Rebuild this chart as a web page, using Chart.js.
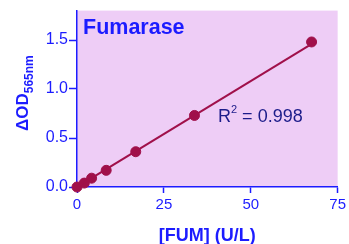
<!DOCTYPE html>
<html>
<head>
<meta charset="utf-8">
<script src="https://cdn.jsdelivr.net/npm/chart.js@4.4.0/dist/chart.umd.min.js"></script>
<style>
  html, body { margin: 0; padding: 0; background: #fff; }
  #wrap { width: 349px; height: 244px; position: relative; }
</style>
</head>
<body>
<div id="wrap"><canvas id="chart"></canvas></div>
<script>
const fum = [0, 2.1, 4.2, 8.4, 16.9, 33.8, 67.5];
const od = [0, 0.04, 0.09, 0.17, 0.36, 0.73, 1.48];
const fitX = [0, 68.5];
const fitY = [0, 1.48];
const xTicks = [0, 25, 50, 75];
const yTicks = [0, 0.5, 1.0, 1.5];

const blue = "#1c1cff";
const dark = "#a0104a";
const font = "'Liberation Sans', Arial, sans-serif";

const decor = {
  id: "decor",
  beforeDraw(chart) {
    const { ctx, chartArea: a } = chart;
    ctx.save();
    ctx.fillStyle = "#eecdf6";
    ctx.fillRect(a.left, a.top, a.right - a.left, a.bottom - a.top);
    ctx.restore();
  },
  afterDraw(chart) {
    const { ctx } = chart;
    ctx.save();
    ctx.fillStyle = blue;
    ctx.font = "bold 21.5px " + font;
    ctx.textBaseline = "alphabetic";
    ctx.fillText("Fumarase", 83, 34);

    ctx.fillStyle = "#1c1c8a";
    ctx.font = "18px " + font;
    ctx.fillText("R", 218, 122);
    const rw = ctx.measureText("R").width;
    ctx.font = "11px " + font;
    ctx.fillText("2", 218 + rw, 113);
    const sw = ctx.measureText("2").width;
    ctx.font = "18px " + font;
    ctx.fillText(" = 0.998", 218 + rw + sw, 122);

    // y axis title with subscript
    ctx.translate(28, 131);
    ctx.rotate(-Math.PI / 2);
    ctx.fillStyle = blue;
    ctx.font = "bold 17px " + font;
    ctx.fillText("ΔOD", 0, 0);
    const w = ctx.measureText("ΔOD").width;
    ctx.font = "bold 12px " + font;
    ctx.fillText("565nm", w, 5);
    ctx.restore();
  }
};

new Chart(document.getElementById("chart"), {
  type: "scatter",
  data: {
    datasets: [
      {
        data: fitX.map((x, i) => ({ x: x, y: fitY[i] })),
        showLine: true,
        borderColor: dark,
        borderWidth: 2,
        pointRadius: 0
      },
      {
        data: fum.map((x, i) => ({ x: x, y: od[i] })),
        backgroundColor: dark,
        borderColor: dark,
        pointRadius: 5,
        pointHoverRadius: 5,
        clip: false
      }
    ]
  },
  options: {
    responsive: true,
    maintainAspectRatio: false,
    animation: false,
    layout: { padding: { top: 10, right: 8, left: 0, bottom: 0 } },
    plugins: { legend: { display: false }, tooltip: { enabled: false } },
    scales: {
      x: {
        type: "linear",
        min: 0,
        max: 75,
        afterBuildTicks(s) { s.ticks = xTicks.map(v => ({ value: v })); },
        afterFit(s) { s.height = 57; },
        grid: { drawOnChartArea: false, color: blue, tickLength: 6, tickWidth: 1.5 },
        border: { color: blue, width: 1.5 },
        ticks: { color: blue, padding: 3, font: { size: 15, family: font } },
        title: {
          display: true,
          text: "[FUM] (U/L)",
          color: blue,
          padding: { top: 8, bottom: -3 },
          font: { size: 18, weight: "bold", family: font }
        }
      },
      y: {
        type: "linear",
        min: 0,
        max: 1.8,
        afterBuildTicks(s) { s.ticks = yTicks.map(v => ({ value: v })); },
        afterFit(s) { s.width = 77; },
        grid: { drawOnChartArea: false, color: blue, tickLength: 8, tickWidth: 1.5 },
        border: { color: blue, width: 1.5 },
        ticks: {
          color: blue,
          padding: 1,
          font: { size: 16, family: font },
          callback: v => v.toFixed(1)
        }
      }
    }
  },
  plugins: [decor]
});
</script>
</body>
</html>
